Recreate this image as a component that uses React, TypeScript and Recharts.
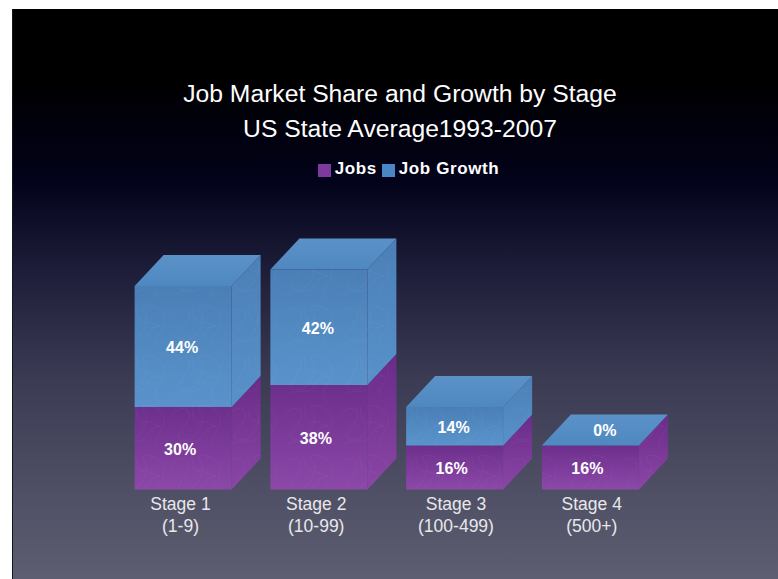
import { BarChart, Bar, XAxis, YAxis, Legend, LabelList } from 'recharts';

const stages = ['Stage 1', 'Stage 2', 'Stage 3', 'Stage 4'];
const sizes = ['(1-9)', '(10-99)', '(100-499)', '(500+)'];
const jobs = [30, 38, 16, 16];
const jobGrowth = [44, 42, 14, 0];
const titleLines = ['Job Market Share and Growth by Stage', 'US State Average1993-2007'];

const rows = stages.map((stage, i) => ({
  stage,
  jobs: jobs[i],
  jobGrowth: jobGrowth[i],
}));

// how far the boxes recede to the upper right
const DEPTH_X = 29;
const DEPTH_Y = 31;

// the stage captions sit a little off the box centres
const tickNudge = [-3, -3, 1, 1];

const Box = ({ x, y, width, height, kind, showTop }: any) => {
  const r = x + width;
  const b = y + height;
  const side = `M${r} ${y}L${r + DEPTH_X} ${y - DEPTH_Y}L${r + DEPTH_X} ${b - DEPTH_Y}L${r} ${b}Z`;
  return (
    <g>
      {height > 0 && <rect x={x} y={y} width={width} height={height} fill={`url(#${kind}Front)`} />}
      {height > 0 && <path d={side} fill={`url(#${kind}Side)`} />}
      {showTop && (
        <path
          d={`M${x} ${y}L${x + DEPTH_X} ${y - DEPTH_Y}L${r + DEPTH_X} ${y - DEPTH_Y}L${r} ${y}Z`}
          fill="url(#growthTop)"
        />
      )}
      {height > 0 && <rect x={x} y={y} width={width} height={height} fill="url(#scribble)" />}
      {height > 0 && <path d={side} fill="url(#scribble)" />}
    </g>
  );
};

const StageTick = ({ x, y, payload, index }: any) => {
  const tx = x + tickNudge[index];
  return (
    <text x={tx} y={y} textAnchor="middle" fill="#e8e8ea" fontSize={17.5} fontFamily="Liberation Sans">
      <tspan x={tx} dy={12}>{payload.value}</tspan>
      <tspan x={tx} dy={22}>{sizes[index]}</tspan>
    </text>
  );
};

const ValueLabel = ({ x, y, width, height, value, shift }: any) => {
  // a zero-height segment has its value written on the lid of the box
  const onLid = value === 0;
  const cx = x + width / 2 + (onLid ? DEPTH_X / 2 : shift);
  const cy = y + height / 2 + (onLid ? -DEPTH_Y / 2 : 1);
  return (
    <text
      x={cx}
      y={cy}
      textAnchor="middle"
      dominantBaseline="central"
      fill="#ffffff"
      fontSize={16}
      fontWeight="bold"
      fontFamily="Liberation Sans"
    >
      {value}%
    </text>
  );
};

export default function App() {
  return (
    <div
      style={{
        position: 'absolute',
        left: 0,
        top: 0,
        width: 778,
        height: 579,
        background: '#ffffff',
      }}
    >
      <div
        style={{
          position: 'absolute',
          left: 12,
          top: 9,
          width: 765,
          height: 570,
          borderLeft: '1px solid #15151c',
          background:
            'linear-gradient(180deg, #000000 0%, #000000 12%, #02021a 30%, #1c1c38 45%, #3b3b54 65%, #5e5e72 100%)',
        }}
      />
      <BarChart
        width={778}
        height={579}
        data={rows}
        barSize={97}
        margin={{ top: 214.5, right: 119.375, bottom: 59.5, left: 115.625 }}
        style={{ position: 'absolute', left: 0, top: 0 }}
      >
        <defs>
          <linearGradient id="jobsFront" x1="0" y1="0" x2="0" y2="1">
            <stop offset="0" stopColor="#6d2f8c" />
            <stop offset="1" stopColor="#8b48a8" />
          </linearGradient>
          <linearGradient id="jobsSide" x1="0" y1="0" x2="0" y2="1">
            <stop offset="0" stopColor="#6a2b88" />
            <stop offset="1" stopColor="#8a46a6" />
          </linearGradient>
          <linearGradient id="growthFront" x1="0" y1="0" x2="0" y2="1">
            <stop offset="0" stopColor="#4a7fb6" />
            <stop offset="1" stopColor="#5a93cc" />
          </linearGradient>
          <linearGradient id="growthSide" x1="0" y1="0" x2="0" y2="1">
            <stop offset="0" stopColor="#4b7fb6" />
            <stop offset="1" stopColor="#5891ca" />
          </linearGradient>
          <linearGradient id="growthTop" x1="0" y1="0" x2="0" y2="1">
            <stop offset="0" stopColor="#5a92c8" />
            <stop offset="1" stopColor="#4f88c0" />
          </linearGradient>
          {/* faint paper scribble over the box faces */}
          <pattern id="scribble" width="56" height="50" patternUnits="userSpaceOnUse">
            <path
              d="M2 18C12 2 26 8 20 20S4 38 16 40S40 18 32 10S50 4 52 18S36 42 46 48M6 46C16 36 28 48 36 34S54 30 42 24S26 28 24 6"
              fill="none"
              stroke="#ffffff"
              strokeOpacity={0.04}
              strokeWidth={0.8}
            />
          </pattern>
        </defs>
        {titleLines.map((line, i) => (
          <text
            key={line}
            x={400}
            y={102 + i * 35}
            textAnchor="middle"
            fill="#ffffff"
            fontSize={24.7}
            fontFamily="Liberation Sans"
          >
            {line}
          </text>
        ))}
        <XAxis dataKey="stage" axisLine={false} tickLine={false} interval={0} tick={<StageTick />} />
        <YAxis hide domain={[0, 100]} />
        <Legend
          verticalAlign="middle"
          align="center"
          iconType="square"
          iconSize={13}
          itemSorter={null}
          wrapperStyle={{ top: 159, left: 31, width: 760 }}
          formatter={(value: string) => (
            <span
              style={{
                color: '#ffffff',
                fontWeight: 'bold',
                fontSize: 17,
                letterSpacing: 0.6,
                marginRight: -5,
                whiteSpace: 'nowrap',
                fontFamily: 'Liberation Sans',
              }}
            >
              {value}
            </span>
          )}
        />
        <Bar
          dataKey="jobs"
          name="Jobs"
          stackId="a"
          fill="#7d3a9c"
          isAnimationActive={false}
          shape={(p: any) => <Box {...p} kind="jobs" />}
        >
          <LabelList dataKey="jobs" content={<ValueLabel shift={-3} />} />
        </Bar>
        <Bar
          dataKey="jobGrowth"
          name="Job Growth"
          stackId="a"
          fill="#4a86c4"
          isAnimationActive={false}
          shape={(p: any) => <Box {...p} kind="growth" showTop />}
        >
          <LabelList dataKey="jobGrowth" content={<ValueLabel shift={-1} />} />
        </Bar>
      </BarChart>
    </div>
  );
}
